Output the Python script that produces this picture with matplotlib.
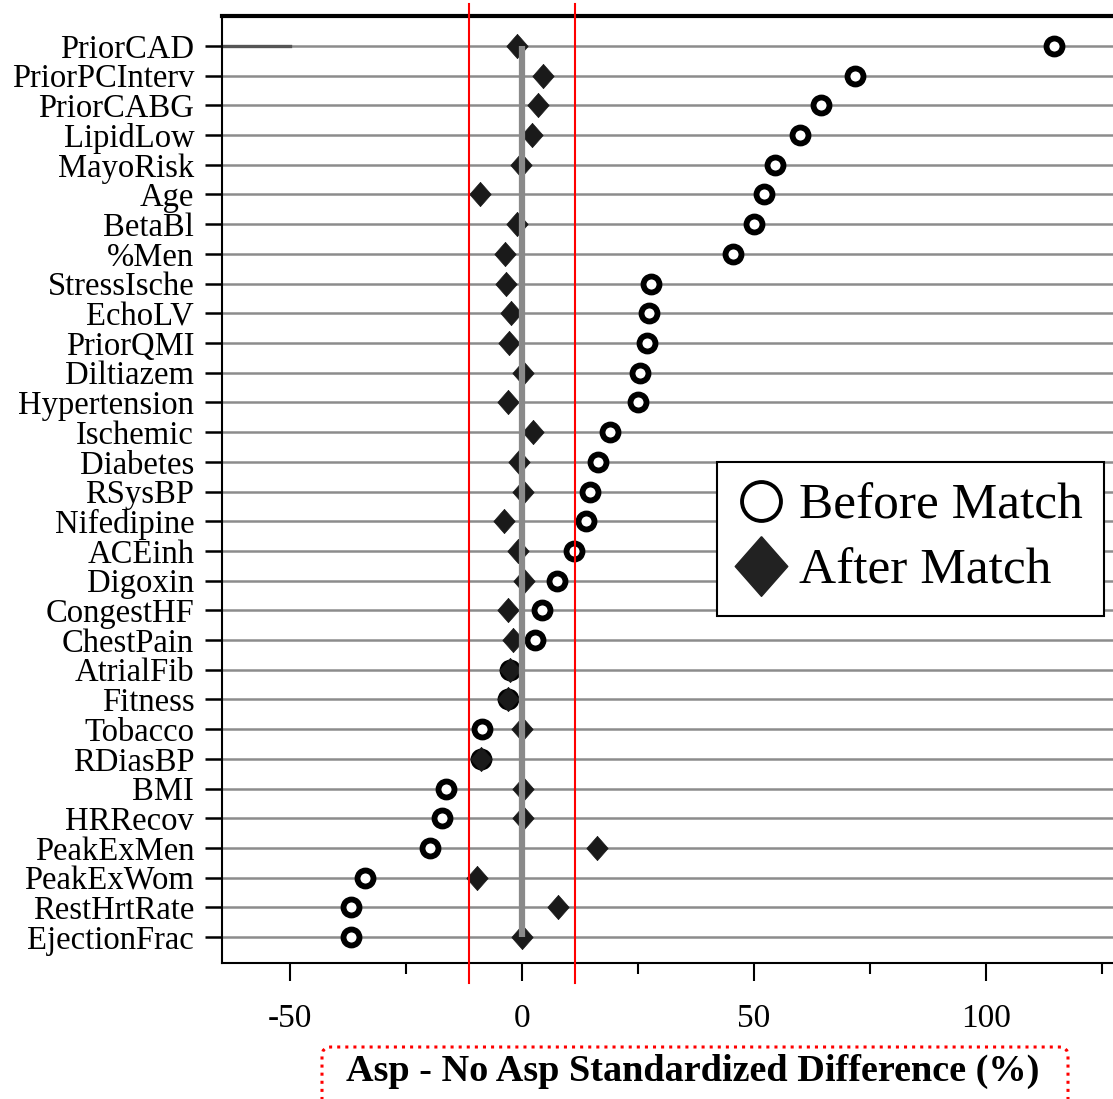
import matplotlib
matplotlib.use("Agg")
import matplotlib.pyplot as plt
from matplotlib.lines import Line2D
from matplotlib.patches import FancyBboxPatch
from matplotlib.ticker import MultipleLocator

plt.rcParams['font.family'] = ['Liberation Serif', 'DejaVu Serif']
plt.rcParams['axes.unicode_minus'] = False

# covariates, top to bottom
covariates = ['PriorCAD', 'PriorPCInterv', 'PriorCABG', 'LipidLow', 'MayoRisk', 'Age',
              'BetaBl', '%Men', 'StressIsche', 'EchoLV', 'PriorQMI', 'Diltiazem',
              'Hypertension', 'Ischemic', 'Diabetes', 'RSysBP', 'Nifedipine', 'ACEinh',
              'Digoxin', 'CongestHF', 'ChestPain', 'AtrialFib', 'Fitness', 'Tobacco',
              'RDiasBP', 'BMI', 'HRRecov', 'PeakExMen', 'PeakExWom', 'RestHrtRate',
              'EjectionFrac']

# standardized differences (%) before matching
before = [114.7, 71.8, 64.5, 60.0, 54.6, 52.1, 49.9, 45.5, 27.8, 27.3, 26.9, 25.4,
          25.0, 19.0, 16.3, 14.7, 13.7, 11.1, 7.5, 4.2, 2.8, -2.6, -3.0, -8.7,
          -8.8, -16.4, -17.2, -19.8, -33.9, -36.9, -36.9]

# standardized differences (%) after matching
after = [-1.0, 4.5, 3.4, 2.2, -0.3, -9.0, -1.0, -3.6, -3.5, -2.4, -2.8, 0.2,
         -3.0, 2.4, -0.7, 0.2, -3.9, -0.9, 0.5, -3.0, -1.9, -2.6, -3.0, -0.1,
         -8.8, 0.2, 0.2, 16.1, -9.8, 7.7, -0.1]

threshold = 11.5

# slightly tall diamond like the original
diamond = [(0, 1), (0.88, 0), (0, -1), (-0.88, 0), (0, 1)]

W, H = 1113, 1099
fig = plt.figure(figsize=(W / 100, H / 100), dpi=100)
ax = fig.add_axes([222 / W, 1 - 963 / H, 1.0 - 222 / W, (963 - 16) / H])

ypos = list(range(len(covariates)))

# row guide lines
for y in ypos:
    ax.axhline(y, color='#8c8c8c', lw=1.8, zorder=1)
ax.plot([-64.7, -50], [0, 0], color='#555555', lw=2.4, zorder=1.5)

ax.plot(before, ypos, 'o', ms=11.5, mfc='white', mec='black', mew=4.2,
        linestyle='none', zorder=3)
ax.plot(after, ypos, marker=diamond, ms=17.5, mfc='#1a1a1a', mec='#1a1a1a', mew=0.5,
        linestyle='none', zorder=4)

# zero reference line
ax.plot([0, 0], [ypos[0], ypos[-1]], color='#8a8a8a', lw=4.5, zorder=5,
        solid_capstyle='butt')

# +/- threshold lines
for t in (-threshold, threshold):
    ax.axvline(t, ymin=-0.021, ymax=1.013, color='red', lw=1.5, clip_on=False, zorder=6)

ax.set_xlim(-64.7, 127.4)
ax.set_ylim(len(covariates) - 1 + 0.875, -1.01)
ax.set_yticks(ypos)
ax.set_yticklabels(covariates, fontsize=23.5)
ax.xaxis.set_major_locator(MultipleLocator(50))
ax.xaxis.set_minor_locator(MultipleLocator(25))
ax.tick_params(axis='x', which='major', length=13, width=1.5, labelsize=24, pad=16)
ax.tick_params(axis='x', which='minor', length=8, width=1.5)
ax.tick_params(axis='y', length=12, width=1.8, pad=8)

ax.spines['right'].set_visible(False)
ax.spines['top'].set_linewidth(3.0)
ax.spines['left'].set_linewidth(1.5)
ax.spines['bottom'].set_linewidth(1.5)

handles = [
    Line2D([], [], marker='o', ls='none', ms=28, mfc='white', mec='black', mew=2.8),
    Line2D([], [], marker=diamond, ms=43, ls='none', mfc='#222222', mec='#222222'),
]
leg = ax.legend(handles, ['Before Match', 'After Match'], loc='upper left',
                bbox_to_anchor=(717 / W, 1 - 462 / H), bbox_transform=fig.transFigure,
                fontsize=37, frameon=True, fancybox=False, borderpad=0.4,
                labelspacing=0.36, handlelength=0.9, handletextpad=0.3,
                borderaxespad=0)
leg.get_frame().set_edgecolor('black')
leg.get_frame().set_linewidth(1.5)
leg.get_frame().set_alpha(1)
leg.set_zorder(10)

fig.text(693 / W, 1 - 1071 / H, 'Asp - No Asp Standardized Difference (%)',
         ha='center', va='center', fontsize=27.5, fontweight='bold')

box = FancyBboxPatch((322 / W, -0.01), (1068 - 322) / W, (H - 1047) / H + 0.01,
                     boxstyle='round,pad=0,rounding_size=0.008',
                     transform=fig.transFigure, fill=False, edgecolor='red',
                     lw=2.2, linestyle=':', clip_on=False)
fig.patches.append(box)

fig.savefig('out.png', dpi=100)
